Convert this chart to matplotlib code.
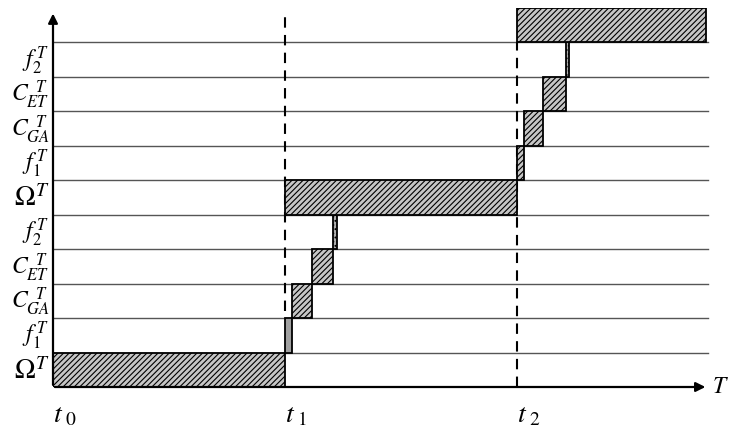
import numpy as np
import matplotlib
matplotlib.use('Agg')
import matplotlib.pyplot as plt

plt.rcParams['mathtext.fontset'] = 'stix'
plt.rcParams['font.family'] = 'Liberation Serif'
plt.rcParams['hatch.linewidth'] = 0.8

# rows from bottom, one task per row
row_labels = [r'$\Omega^T$', r'$f_1^{\,T}$', r'$C_{GA}^{\;\;T}$', r'$C_{ET}^{\;\;T}$', r'$f_2^{\,T}$',
              r'$\Omega^T$', r'$f_1^{\,T}$', r'$C_{GA}^{\;\;T}$', r'$C_{ET}^{\;\;T}$', r'$f_2^{\,T}$']
task_kind = ['omega', 'f1a', 'cga', 'cet', 'f2',
             'omega', 'f1', 'cga', 'cet', 'f2', 'omega']
task_start = [0.0, 1.0, 1.03, 1.115, 1.207, 1.0, 2.0, 2.03, 2.112, 2.211, 2.0]
task_end = [1.0, 1.03, 1.115, 1.207, 1.224, 2.0, 2.03, 2.112, 2.211, 2.224, 2.815]

t_values = [0, 1, 2]
t_labels = [r'$t_{\ 0}$', r'$t_{\ 1}$', r'$t_{\ 2}$']

styles = {
    'omega': dict(color='#c6c6c6', hatch='//////'),
    'f1a': dict(color='#a0a0a0', hatch=None),
    'f1': dict(color='#c6c6c6', hatch='//////'),
    'cga': dict(color='#c6c6c6', hatch='//////'),
    'cet': dict(color='#c6c6c6', hatch='//////'),
    'f2': dict(color='#b0b0b0', hatch='....'),
}

fig = plt.figure(figsize=(7.34, 4.27), dpi=100)
ax = fig.add_axes([53 / 734, 39 / 427, 654 / 734, 379 / 427])
xmax = 2.82
ax.set_xlim(0, xmax)
ax.set_ylim(0, 11)
ax.axis('off')

# row separators
for r in range(1, 11):
    ax.plot([0, 2.823], [r, r], color='#555555', lw=1.0, zorder=1, clip_on=False)

# dashed time markers
ax.plot([1, 1], [2.2, 10.95], color='black', lw=1.5, ls=(0, (5, 3.5)), zorder=2, clip_on=False)
ax.plot([2, 2], [0, 10], color='black', lw=1.5, ls=(0, (5, 3.5)), zorder=2, clip_on=False)

for i, kind in enumerate(task_kind):
    st = styles[kind]
    ax.barh(i + 0.5, task_end[i] - task_start[i], left=task_start[i], height=1,
            facecolor=st['color'], edgecolor='black', hatch=st['hatch'],
            linewidth=1.3, zorder=3)

# axes arrows
ax.annotate('', xy=(xmax + 0.005, 0), xytext=(-0.004, 0),
            arrowprops=dict(arrowstyle='-|>', color='black', lw=1.6, mutation_scale=14),
            annotation_clip=False, zorder=5)
ax.annotate('', xy=(0, 10.92), xytext=(0, -0.02),
            arrowprops=dict(arrowstyle='-|>', color='black', lw=1.6, mutation_scale=14),
            annotation_clip=False, zorder=5)

for i, lab in enumerate(row_labels):
    fs = 20 if 'Omega' in lab else 17
    ax.text(-0.015, i + 0.5, lab, ha='right', va='center', fontsize=fs)

for tv, tl in zip(t_values, t_labels):
    ax.text(tv, -0.45, tl, ha='left', va='top', fontsize=20)

ax.text(2.915, 0, r'$T$', ha='right', va='center', fontsize=17)

fig.savefig('out.png', dpi=100)
